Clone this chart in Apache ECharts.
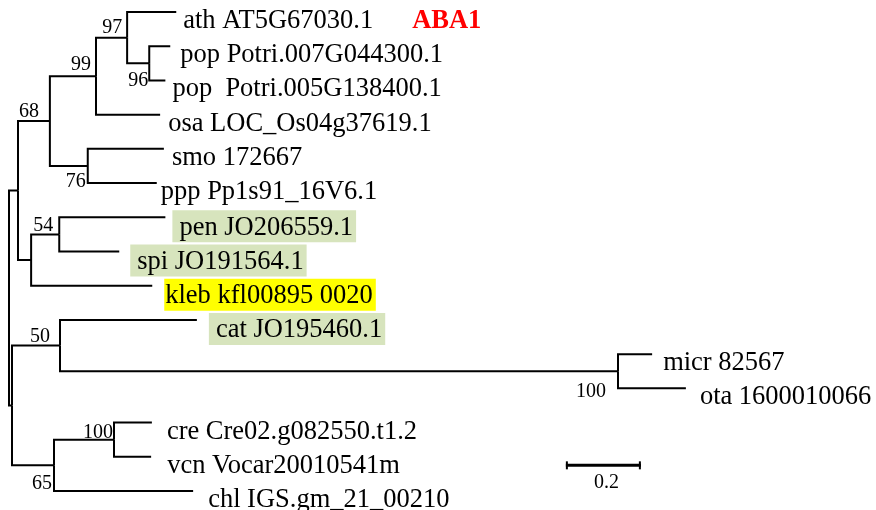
<!DOCTYPE html>
<html><head><meta charset="utf-8">
<script src="https://cdn.jsdelivr.net/npm/echarts@6/dist/echarts.min.js"></script>
<style>html,body{margin:0;padding:0;background:#fff}#c{width:876px;height:510px}</style>
</head><body><div id="c"></div>
<script>
// ---- DATA ----
const nodeNames = ['root','upper','n68','n99','n97','ath AT5G67030.1','n96','pop Potri.007G044300.1','pop  Potri.005G138400.1','osa LOC_Os04g37619.1','n76','smo 172667','ppp Pp1s91_16V6.1','n31','n54','pen JO206559.1','spi JO191564.1','kleb kfl00895 0020','lower','n50','cat JO195460.1','n100m','micr 82567','ota 1600010066','n65','n100c','cre Cre02.g082550.t1.2','vcn Vocar20010541m','chl IGS.gm_21_00210'];
const nodeParents = [-1,0,1,2,3,4,4,6,6,3,2,10,10,1,13,14,14,13,0,18,19,19,21,21,18,24,25,25,24];
const branchLengths = [0,0.024,0.085,0.123,0.083,0.131,0.059,0.056,0.043,0.171,0.101,0.203,0.184,0.035,0.075,0.283,0.160,0.323,0.008,0.128,0.365,1.488,0.091,0.181,0.112,0.160,0.101,0.099,0.371];
const bootstrapValues = [null,null,68,99,97,null,96,null,null,null,76,null,null,null,54,null,null,null,null,50,null,100,null,null,65,100,null,null,null];
const geneNote = 'ABA1';
const scaleBarLength = 0.2;
const scaleBarLabel = '0.2';

// ---- STYLE ----
const FONT = 'Liberation Serif';
const LEAF_FS = 26.5;
const GREEN = '#d7e4bd', YELLOW = '#ffff00';
const highlight = {'pen JO206559.1':GREEN,'spi JO191564.1':GREEN,'cat JO195460.1':GREEN,'kleb kfl00895 0020':YELLOW};
// per-leaf label gap (px) in leaf order
const leafGap = [7,10,7,8,8,4,7,11,12,12,11,14,15,16,15];
// per-node bootstrap label offsets [dx, dy] (px)
const bsOffset = {2:[-11,-9.5],3:[-5,-11],4:[-5,-10],6:[-1,17.5],10:[-2,16],14:[-6,-8.5],19:[-10,-9],21:[-12,21],24:[-2,18],25:[-1,-7]};
const scaleBarPos = {x:1.485,row:13.25};

// ---- LAYOUT (from data) ----
const n = nodeNames.length;
const children = Array.from({length:n},()=>[]);
nodeParents.forEach((p,i)=>{ if(p>=0) children[p].push(i); });
const X = new Array(n), Y = new Array(n);
let leafCounter = 0; const leaves = [];
(function walk(i){
  X[i] = (nodeParents[i] >= 0 ? X[nodeParents[i]] : 0) + branchLengths[i];
  if(children[i].length===0){ Y[i]=leafCounter++; leaves.push(i); }
  else { children[i].forEach(walk); const c=children[i]; Y[i]=(Y[c[0]]+Y[c[c.length-1]])/2; }
})(0);

const branchData = [];
for(let i=0;i<n;i++){ const p=nodeParents[i]; if(p>=0) branchData.push([X[p],Y[p],X[i],Y[i]]); }

const leafData = leaves.map((i,k)=>{
  const name = nodeNames[i];
  const item = {value:[X[i],Y[i]], name:name, label:{offset:[leafGap[k],9]}};
  if(highlight[name]){
    const left = name.startsWith('kleb') ? 1 : 7;
    item.label = {offset:[leafGap[k],9], backgroundColor:highlight[name], padding:[4,3,1,left]};
  }
  if(k===0){ item.label.formatter = '{a|'+name+'}{r|'+geneNote+'}'; }
  return item;
});

const bsData = [];
for(let i=0;i<n;i++){ if(bootstrapValues[i]!=null){ bsData.push({value:[X[i],Y[i]], name:String(bootstrapValues[i]), label:{offset:bsOffset[i]||[-4,-10]}}); } }

const chart = echarts.init(document.getElementById('c'), null, {renderer:'canvas'});
chart.setOption({
  animation:false,
  backgroundColor:'#fff',
  grid:{left:0,right:0,top:0,bottom:0},
  xAxis:{type:'value',min:-9/375,max:(876-9)/375,show:false},
  yAxis:{type:'value',inverse:true,min:-12/34.214,max:(510-12)/34.214,show:false},
  series:[
    {type:'custom', coordinateSystem:'cartesian2d', clip:false, silent:true,
     data:branchData, encode:{x:[0,2],y:[1,3]},
     renderItem:(params,api)=>{
       const p = api.coord([api.value(0),api.value(1)]);
       const m = api.coord([api.value(0),api.value(3)]);
       const c = api.coord([api.value(2),api.value(3)]);
       return {type:'polyline', shape:{points:[p,m,c]}, style:{stroke:'#000',lineWidth:2,fill:null,lineJoin:'miter'}};
     }},
    {type:'scatter', symbolSize:0, silent:true, data:leafData, itemStyle:{opacity:1},
     label:{show:true, opacity:1, position:'right', distance:0, formatter:'{b}', color:'#000', fontFamily:FONT, fontSize:LEAF_FS,
       rich:{a:{color:'#000',fontFamily:FONT,fontSize:LEAF_FS}, r:{color:'#ff0000',fontFamily:FONT,fontSize:LEAF_FS,fontWeight:'bold',padding:[0,0,0,39]}}}},
    {type:'scatter', symbolSize:0, silent:true, data:bsData, itemStyle:{opacity:1},
     label:{show:true, opacity:1, position:'left', distance:0, formatter:'{b}', color:'#000', fontFamily:FONT, fontSize:20}},
    {type:'custom', coordinateSystem:'cartesian2d', clip:false, silent:true,
     data:[[scaleBarPos.x, scaleBarPos.row, scaleBarPos.x+scaleBarLength]], encode:{x:[0,2],y:1},
     renderItem:(params,api)=>{
       const a = api.coord([api.value(0),api.value(1)]);
       const b = api.coord([api.value(2),api.value(1)]);
       return {type:'group', children:[
         {type:'line', shape:{x1:a[0],y1:a[1],x2:b[0],y2:b[1]}, style:{stroke:'#000',lineWidth:3}},
         {type:'line', shape:{x1:a[0]+1,y1:a[1]-4,x2:a[0]+1,y2:a[1]+4}, style:{stroke:'#000',lineWidth:2}},
         {type:'line', shape:{x1:b[0]-1,y1:b[1]-4,x2:b[0]-1,y2:b[1]+4}, style:{stroke:'#000',lineWidth:2}},
         {type:'text', x:(a[0]+b[0])/2+3, y:a[1]+17, style:{text:scaleBarLabel, fill:'#000', font:'20px '+FONT, align:'center', verticalAlign:'middle'}}
       ]};
     }}
  ]
});
</script></body></html>
